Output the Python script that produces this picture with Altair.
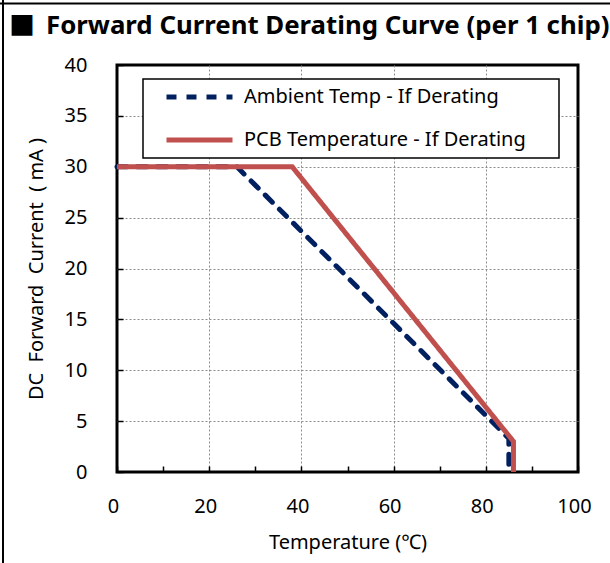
import altair as alt
import pandas as pd

# Derating curves: temperature (°C) vs. DC forward current (mA)
series_names = ["Ambient Temp - If Derating", "PCB Temperature - If Derating"]
series_colors = ["#002060", "#C0504D"]
ambient_temp = [0, 26, 85, 85]
ambient_current = [30, 30, 3.3, 0]
pcb_temp = [0, 38, 86, 86]
pcb_current = [30, 30, 3, 0]

x_ticks = [0, 10, 20, 30, 40, 50, 60, 70, 80, 90, 100]
y_ticks = [0, 5, 10, 15, 20, 25, 30, 35, 40]

title_text = "Forward Current Derating Curve (per 1 chip)"
title_marker = "■"
x_title = "Temperature (℃)"
y_title = "DC\u00a0 Forward\u00a0 Current\u00a0 (\u00a0mA\u00a0)"

rows = []
for name, temps, currents in [
    (series_names[0], ambient_temp, ambient_current),
    (series_names[1], pcb_temp, pcb_current),
]:
    for i, (t, c) in enumerate(zip(temps, currents)):
        rows.append({"series": name, "temp": t, "current": c, "idx": i})
df = pd.DataFrame(rows)
one = pd.DataFrame({"k": [0]})

W, H = 461, 407
FONT = "Noto Sans"

x_axis = alt.Axis(
    values=x_ticks,
    labelExpr="datum.value % 20 == 0 ? datum.label : ''",
    labelFlush=False,
    labelOffset=-4,
    grid=True,
    gridOpacity={"condition": {"test": "datum.value % 20 != 0 || datum.value == 0 || datum.value == 100", "value": 0}, "value": 1},
    gridColor="#8c8c8c",
    gridDash=[2, 2],
    gridWidth=1,
    domain=False,
    offset=-6,
    tickSize=6,
    tickColor="black",
    tickWidth=1.5,
    labelPadding=24,
    labelFontSize=20,
    labelFont=FONT,
    labelColor="black",
    title=x_title,
    titleFont=FONT,
    titleFontSize=20,
    titleFontWeight="normal",
    titleColor="black",
    titlePadding=16,
)

y_axis = alt.Axis(
    values=y_ticks,
    labelFlush=False,
    grid=True,
    gridOpacity={"condition": {"test": "datum.value == 0 || datum.value == 40", "value": 0}, "value": 1},
    gridColor="#8c8c8c",
    gridDash=[2, 2],
    gridWidth=1,
    domain=False,
    offset=-6,
    tickSize=6,
    tickColor="black",
    tickWidth=1.5,
    labelPadding=30,
    labelFontSize=20,
    labelFont=FONT,
    labelColor="black",
    title=y_title,
    titleFont=FONT,
    titleFontSize=20,
    titleFontWeight="normal",
    titleColor="black",
    titlePadding=18,
)

# long horizontal stroke as legend swatch (path spans 3 symbol radii each side)
legend = alt.Legend(
    title=None,
    orient="none",
    legendX=69,
    legendY=18.5,
    direction="vertical",
    symbolType="M-3,0H3",
    symbolSize=484,
    symbolStrokeWidth=5,
    labelFont=FONT,
    labelFontSize=20,
    labelColor="black",
    labelOffset=31,
    labelLimit=0,
    rowPadding=19,
    padding=0,
)

base = alt.Chart(df).encode(
    x=alt.X("temp:Q", scale=alt.Scale(domain=[0, 100], nice=False), axis=x_axis),
    y=alt.Y("current:Q", scale=alt.Scale(domain=[0, 40], nice=False), axis=y_axis),
    color=alt.Color("series:N", scale=alt.Scale(domain=series_names, range=series_colors), legend=legend),
    strokeDash=alt.StrokeDash("series:N", scale=alt.Scale(domain=series_names, range=[[10, 10], [1, 0]]), legend=legend),
    order=alt.Order("idx:Q"),
)

ambient_line = base.transform_filter(alt.datum.series == series_names[0]).mark_line(
    strokeWidth=5, strokeCap="round"
)
pcb_line = base.transform_filter(alt.datum.series == series_names[1]).mark_line(
    strokeWidth=5, strokeCap="butt", strokeJoin="miter"
)

# legend background box (covers the grid behind the legend)
legend_box = alt.Chart(one).mark_rect(fill="white", stroke="black", strokeWidth=1.5).encode(
    x=alt.value(26), x2=alt.value(442), y=alt.value(14), y2=alt.value(93)
)

# outer frame lines (top and left edges)
top_border = alt.Chart(one).mark_rule(color="black", strokeWidth=2).encode(
    x=alt.value(-117), x2=alt.value(493), y=alt.value(-61.5)
)
left_border = alt.Chart(one).mark_rule(color="black", strokeWidth=2).encode(
    x=alt.value(-114), y=alt.value(-65), y2=alt.value(498)
)

marker = alt.Chart(one).mark_text(
    text=title_marker, font="Noto Sans CJK KR", fontSize=26, align="center", baseline="middle", color="black"
).encode(x=alt.value(-95), y=alt.value(-38.5))

heading = alt.Chart(one).mark_text(
    text=title_text, font=FONT, fontSize=25.8, fontWeight="bold", align="left", baseline="alphabetic", color="black"
).encode(x=alt.value(-71), y=alt.value(-31.5))

chart = alt.layer(
    top_border, left_border, marker, heading, ambient_line, pcb_line, legend_box
).properties(
    width=W,
    height=H,
    autosize=alt.AutoSizeParams(type="none"),
    padding={"left": 117, "top": 65, "right": 32, "bottom": 91},
    background="white",
).configure_view(stroke="black", strokeWidth=3)

chart.save("out.html", embed_options={"renderer": "svg", "actions": False})
